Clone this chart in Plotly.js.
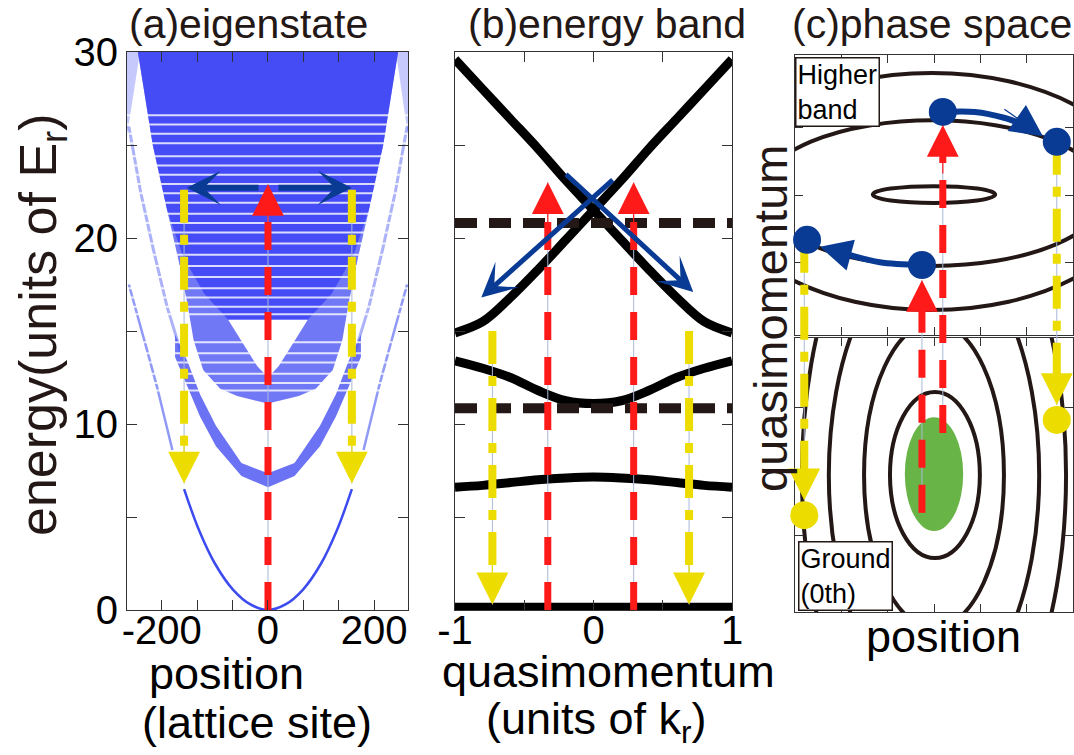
<!DOCTYPE html>
<html><head><meta charset="utf-8">
<script src="https://cdn.plot.ly/plotly-3.0.1.min.js"></script>
<style>html,body{margin:0;padding:0;background:#fff}#chart{width:1074px;height:755px}</style>
</head><body><div id="chart"></div>
<script>
// ================= DATA =================
// ---- panel (a): eigenstates, position (lattice site) vs energy (E_r)
const aGroundX = [-158,-130,-100,-66,-33,0,33,66,100,130,158];
const aGroundE = [6.5,4.3,2.5,1.1,0.3,0,0.3,1.1,2.5,4.3,6.5];
const aGroundTailLX = [-262,-247,-228,-209,-195,-180];
const aGroundTailRX = [262,247,228,209,195,180];
const aGroundTailE = [17.5,16.0,14.0,12.0,10.4,8.6];
const aFaintLX = [-262,-240,-216,-190,-163];
const aFaintRX = [262,240,216,190,163];
const aFaintE = [26.0,22.5,19.4,16.3,13.8];
const aBand1X = [-175,-152,-128,-98,-50,0,50,98,128,152,175];
const aBand1Lo = [13.6,12.0,10.4,8.8,7.2,6.6,7.2,8.8,10.4,12.0,13.6];
const aBand1Hi = [14.8,13.4,11.6,9.9,7.9,7.35,7.9,9.9,11.6,13.4,14.8];
const aUpperX = [-245,-217,-190,-170,-152,-140,-122,-90,-58,0,58,90,122,140,152,170,190,217,245];
const aUpperE = [30,25,21.5,19,16.5,14.5,12.9,11.9,11.5,11.1,11.5,11.9,12.9,14.5,16.5,19,21.5,25,30];
const aDenseX = [-245,-217,-190,-160,-120,-75,75,120,160,190,217,245];
const aDenseE = [30,25,21.5,19,17,15.6,15.6,17,19,21.5,25,30];
const aEyeX = [-75,-55,-40,-20,0,20,40,55,75];
const aEyeE = [15.6,14.7,14.0,13.1,12.5,13.1,14.0,14.7,15.6];
const aEdgeLX = [-265.5,-241,-265.5];
const aEdgeRX = [263.7,241,263.7];
const aEdgeE = [30,30,25.5];
const aStripeE = [26.6,26.1,25.6,25.1,24.4,23.9,23.4,22.9,22.4,21.9,21.3,20.8,20.3,19.7,19.1,18.5,17.9,17.3,16.8,16.3,15.9,14.4,13.8,13.3,12.7,12.2,11.8];
const aRedX = 0, aRedTipE = 22.9;
const aYellowX = [-158,158], aYellowTopE = 22.6, aYellowTipE = 6.8;
const aBlueTailX = [-15,17], aBlueTipX = [-153,158], aBlueE = 22.7;
const aTickVals = [-200,-133.3,-66.7,0,66.7,133.3,200];
const aTickText = ['-200','','','0','','','200'];
const eTickVals = [0,5,10,15,20,25,30];
const eTickText = ['0','','10','','20','','30'];

// ---- panel (b): band structure, quasimomentum (k_r) vs energy (E_r)
const bQ = [-1,-0.8,-0.6,-0.4,-0.2,0,0.2,0.4,0.6,0.8,1];
const bBand0 = [0.15,0.15,0.15,0.15,0.15,0.15,0.15,0.15,0.15,0.15,0.15];
const bBand1 = [6.6,6.7,6.85,7.0,7.1,7.15,7.1,7.0,6.85,6.7,6.6];
const bBand2 = [13.4,13.0,12.5,11.8,11.25,11.1,11.25,11.8,12.5,13.0,13.4];
const bBandDown = [29.6,28.0,26.4,24.8,23.1,21.5,19.9,18.3,16.8,15.5,14.9];
const bBandUp = [14.9,15.5,16.8,18.3,19.9,21.5,23.1,24.8,26.4,28.0,29.6];
const bDashedE = [20.8,10.85];
const bRedQ = [-0.33,0.29], bRedTipE = 23.0;
const bYellowQ = [-0.73,0.69], bYellowTopE = 15.0, bYellowTipE = 0.3;
const bBlueTailQ = [-0.21,0.15], bBlueTailE = [23.5,23.2];
const bBlueHeadQ = [0.72,-0.81], bBlueHeadE = [17.1,16.8];
const bTickVals = [-1,-0.5,0,0.5,1];
const bTickText = ['-1','','0','','1'];

// ---- panel (c): phase space (position vs quasimomentum), arbitrary units
const cUpCx = [-0.02,-0.05,0.0], cUpCy = [0.04,0.075,0.01];
const cUpRx = [3.73,4.51,1.32], cUpRy = [1.56,2.54,0.18];
const cLoCx = [0.02,0.0,0.0,0.0], cLoCy = [0.0,0.0,0.0,0.0];
const cLoRx = [0.97,1.51,2.27,2.85], cLoRy = [1.78,3.28,4.86,6.47];
const cGreen = {cx:0.0, cy:0.02, rx:0.63, ry:1.22};
const cBlueDotX = [0.19,2.65,-2.74,-0.26], cBlueDotY = [1.78,1.14,-0.96,-1.50];
const cYellowDotX = [-2.8,2.65], cYellowDotY = [-6.86,-4.82];
const cRedX = [0.19,-0.26], cRedFrom = [-5.10,-6.81], cRedTip = [1.50,-1.82];
const cYellowX = [-2.8,2.65], cYellowFrom = [-0.96,1.14], cYellowTip = [-6.54,-4.50];
const cCurve1X = [0.19,0.88,1.53,2.07], cCurve1Y = [1.78,1.78,1.65,1.46];
const cCurve2X = [-0.26,-1.17,-1.81], cCurve2Y = [-1.50,-1.44,-1.29];
const cHead1 = [2.35,1.26], cHead2 = [-2.46,-1.11];

// ================= STYLE =================
const FONT = 'Liberation Sans, Arial, Helvetica, sans-serif';
const TXT = '#231815';
const BLUE_D = 'rgba(58,68,242,0.72)', BLUE_DD = 'rgba(52,60,244,0.72)';
const NAVY = '#0a3b94', RED = '#ff1a1a', YEL = '#ecdc00', STEEL = '#a9b9d9';
const RED_DASH = '28px,17px', YEL_DASH = '33px,12px,10px,12px';

const traces = [];
function poly(x, y, fill, xa, ya){ traces.push({x, y, xaxis:xa, yaxis:ya, type:'scatter', mode:'lines', fill:'toself', fillcolor:fill, line:{width:0}, hoverinfo:'skip'}); }
function line(x, y, xa, ya, style, extra){ traces.push(Object.assign({x, y, xaxis:xa, yaxis:ya, type:'scatter', mode:'lines', line:style, hoverinfo:'skip'}, extra||{})); }

// ---- panel (a)
poly(aEdgeLX, aEdgeE, 'rgba(90,100,245,0.35)', 'x', 'y');
poly(aEdgeRX, aEdgeE, 'rgba(90,100,245,0.35)', 'x', 'y');
poly(aUpperX, aUpperE, BLUE_D, 'x', 'y');
poly(aDenseX, aDenseE, BLUE_DD, 'x', 'y');
poly(aBand1X.concat(aBand1X.slice().reverse()), aBand1Lo.concat(aBand1Hi.slice().reverse()), 'rgba(50,60,240,0.72)', 'x', 'y');
line(aGroundTailLX, aGroundTailE, 'x', 'y', {color:'rgba(70,85,240,0.6)', width:2.5});
line(aGroundTailRX, aGroundTailE, 'x', 'y', {color:'rgba(70,85,240,0.6)', width:2.5});
line(aFaintLX, aFaintE, 'x', 'y', {color:'rgba(70,85,240,0.45)', width:3});
line(aFaintRX, aFaintE, 'x', 'y', {color:'rgba(70,85,240,0.45)', width:3});
(function(){ const sx=[], sy=[]; aStripeE.forEach(e=>{ sx.push(-265.5,263.7,null); sy.push(e,e,null); }); line(sx, sy, 'x', 'y', {color:'rgba(255,255,255,0.8)', width:2}); })();
poly(aEyeX, aEyeE, '#ffffff', 'x', 'y');
line(aGroundX, aGroundE, 'x', 'y', {color:'#3c4bf0', width:2.5, shape:'spline'});
line([aRedX,aRedX], [0,aRedTipE], 'x', 'y', {color:STEEL, width:1});
aYellowX.forEach(x=>line([x,x],[aYellowTipE,aYellowTopE],'x','y',{color:STEEL,width:1}));
line([aRedX,aRedX], [0,aRedTipE-1.2], 'x', 'y', {color:RED, width:7, dash:RED_DASH});
aYellowX.forEach(x=>line([x,x],[aYellowTopE,aYellowTipE+1.0],'x','y',{color:YEL,width:8,dash:YEL_DASH}));

// ---- panel (b)
[bBand0,bBand1,bBand2,bBandDown,bBandUp].forEach(b=>line(bQ, b, 'x2', 'y2', {color:'#000', width:9, shape:'spline'}, {cliponaxis:false}));
bRedQ.forEach(q=>line([q,q],[0,bRedTipE],'x2','y2',{color:STEEL,width:1}));
bYellowQ.forEach(q=>line([q,q],[bYellowTipE,bYellowTopE],'x2','y2',{color:STEEL,width:1}));
bDashedE.forEach(e=>line([-1,1.03],[e,e],'x2','y2',{color:TXT,width:10,dash:'22px,12px'},{cliponaxis:false}));
bRedQ.forEach(q=>line([q,q],[0,bRedTipE-1.2],'x2','y2',{color:RED,width:7,dash:RED_DASH}));
bYellowQ.forEach(q=>line([q,q],[bYellowTopE,bYellowTipE+1.0],'x2','y2',{color:YEL,width:8,dash:YEL_DASH}));

// ---- panel (c) overlay traces (x5/y5)
cRedX.forEach((x,i)=>line([x,x],[cRedFrom[i],cRedTip[i]],'x5','y5',{color:STEEL,width:1}));
cYellowX.forEach((x,i)=>line([x,x],[cYellowFrom[i],cYellowTip[i]],'x5','y5',{color:STEEL,width:1}));
cRedX.forEach((x,i)=>line([x,x],[cRedFrom[i],cRedTip[i]-0.3],'x5','y5',{color:RED,width:7,dash:RED_DASH}));
cYellowX.forEach((x,i)=>line([x,x],[cYellowFrom[i],cYellowTip[i]+0.3],'x5','y5',{color:YEL,width:8,dash:YEL_DASH}));
line(cCurve1X, cCurve1Y, 'x5', 'y5', {color:NAVY, width:6, shape:'spline'});
line(cCurve2X, cCurve2Y, 'x5', 'y5', {color:NAVY, width:6, shape:'spline'});
traces.push({x:cBlueDotX, y:cBlueDotY, xaxis:'x5', yaxis:'y5', type:'scatter', mode:'markers', marker:{color:NAVY, size:28, line:{width:0}}, hoverinfo:'skip', cliponaxis:false});
traces.push({x:cYellowDotX, y:cYellowDotY, xaxis:'x5', yaxis:'y5', type:'scatter', mode:'markers', marker:{color:YEL, size:28, line:{width:0}}, hoverinfo:'skip', cliponaxis:false});

// ---- shapes (phase-space contours)
const shapes = [];
function ell(xr, yr, cx, cy, rx, ry, style){ shapes.push(Object.assign({type:'circle', xref:xr, yref:yr, x0:cx-rx, x1:cx+rx, y0:cy-ry, y1:cy+ry, layer:'below'}, style)); }
cUpRx.forEach((rx,i)=>ell('x3','y3',cUpCx[i],cUpCy[i],rx,cUpRy[i],{line:{color:TXT,width:4}}));
ell('x4','y4',cGreen.cx,cGreen.cy,cGreen.rx,cGreen.ry,{line:{width:0},fillcolor:'#68b447'});
cLoRx.forEach((rx,i)=>ell('x4','y4',cLoCx[i],cLoCy[i],rx,cLoRy[i],{line:{color:TXT,width:4}}));

// ---- annotations
const ann = [];
function head(xr, yr, x, y, ax, ay, color){ ann.push({xref:xr, yref:yr, x, y, ax, ay, text:'', showarrow:true, arrowhead:2, arrowsize:5.3, arrowwidth:1.2, arrowcolor:color, standoff:0}); }
function arrow(xr, yr, x, y, ax, ay, color, w, size){ ann.push({xref:xr, yref:yr, axref:xr, ayref:yr, x, y, ax, ay, text:'', showarrow:true, arrowhead:3, arrowsize:size, arrowwidth:w, arrowcolor:color, standoff:0}); }
// (a)
head('x','y',aRedX,aRedTipE,0,50,RED);
aYellowX.forEach(x=>head('x','y',x,aYellowTipE,0,-50,YEL));
aBlueTipX.forEach((x,i)=>arrow('x','y',x,aBlueE,aBlueTailX[i],aBlueE,NAVY,6,0.95));
// (b)
bRedQ.forEach(q=>head('x2','y2',q,bRedTipE,0,50,RED));
bYellowQ.forEach(q=>head('x2','y2',q,bYellowTipE,0,-50,YEL));
bBlueHeadQ.forEach((q,i)=>arrow('x2','y2',q,bBlueHeadE[i],bBlueTailQ[i],bBlueTailE[i],NAVY,5,1.15));
// (c)
cRedX.forEach((x,i)=>head('x5','y5',x,cRedTip[i],0,50,RED));
cYellowX.forEach((x,i)=>head('x5','y5',x,cYellowTip[i],0,-50,YEL));
head('x5','y5',cHead1[0],cHead1[1],-40,-28,NAVY);
head('x5','y5',cHead2[0],cHead2[1],48,13,NAVY);

// text labels
function txt(text, px, py, size, extra){ ann.push(Object.assign({xref:'paper', yref:'paper', x:px/1074, y:1-py/755, text, showarrow:false, font:{family:FONT, size, color:TXT}, xanchor:'center', yanchor:'middle'}, extra||{})); }
txt('(a)eigenstate', 248, 24, 41);
txt('(b)energy band', 607, 24, 41);
txt('(c)phase space', 932, 24, 41);
txt('energy(units of E<sub>r</sub>)', 42, 325, 52, {textangle:-90});
txt('quasimomentum', 770, 319, 47, {textangle:-90});
const K = {family:FONT,size:45,color:'#000'};
txt('position', 226, 673, 45, {font:K});
txt('(lattice site)', 257, 722, 45, {font:K});
txt('quasimomentum', 608, 671, 45, {font:K});
txt('(units of k<sub>r</sub>)', 596, 721, 45, {font:K});
txt('position', 943, 636, 45, {font:K});
ann.push({xref:'paper', yref:'paper', x:795/1074, y:1-57/755, xanchor:'left', yanchor:'top', align:'left', text:'Higher<br>band', showarrow:false, font:{family:FONT,size:27,color:'#000'}, bgcolor:'#fff', bordercolor:TXT, borderwidth:1.5, borderpad:1});
ann.push({xref:'paper', yref:'paper', x:798/1074, y:1-611/755, xanchor:'left', yanchor:'bottom', align:'left', text:'Ground<br>(0th)', showarrow:false, font:{family:FONT,size:27,color:'#000'}, bgcolor:'#fff', bordercolor:TXT, borderwidth:1.5, borderpad:1});

// ================= LAYOUT =================
const frame = {showline:true, mirror:'ticks', linecolor:'#333', linewidth:1, ticks:'inside', ticklen:10, tickcolor:'#333', tickwidth:1, showgrid:false, zeroline:false, tickfont:{family:FONT, size:40, color:'#000'}, fixedrange:true};
const yA = [1-610/755, 1-52/755];
const layout = {
  width:1074, height:755, margin:{l:0,r:0,t:0,b:0}, showlegend:false,
  paper_bgcolor:'#fff', plot_bgcolor:'rgba(0,0,0,0)',
  xaxis: Object.assign({}, frame, {domain:[127/1074,408/1074], range:[-265.5,263.7], anchor:'y', tickmode:'array', tickvals:aTickVals, ticktext:aTickText, ticklabelstandoff:-15}),
  yaxis: Object.assign({}, frame, {domain:yA, range:[0,30], anchor:'x', tickmode:'array', tickvals:eTickVals, ticktext:eTickText}),
  xaxis2: Object.assign({}, frame, {domain:[455/1074,732/1074], range:[-1,1], anchor:'y2', tickmode:'array', tickvals:bTickVals, ticktext:bTickText, ticklabelstandoff:-15}),
  yaxis2: Object.assign({}, frame, {domain:yA, range:[0,30], anchor:'x2', tickmode:'array', tickvals:eTickVals, showticklabels:false}),
  xaxis3: Object.assign({}, frame, {domain:[795/1074,1073/1074], range:[-3,3], anchor:'y3', ticklen:8, tickmode:'array', tickvals:[-2,-1,0,1,2], showticklabels:false}),
  yaxis3: Object.assign({}, frame, {domain:[1-335/755,1-55/755], range:[-3,3], anchor:'x3', ticklen:8, tickmode:'array', tickvals:[-1.45,0,1.45], showticklabels:false}),
  xaxis4: Object.assign({}, frame, {domain:[795/1074,1073/1074], range:[-3,3], anchor:'y4', ticklen:8, tickmode:'array', tickvals:[-2,-1,0,1,2], showticklabels:false}),
  yaxis4: Object.assign({}, frame, {domain:[1-612/755,1-338/755], range:[-2.936,2.936], anchor:'x4', ticklen:8, tickmode:'array', tickvals:[-1.3,1.45], showticklabels:false}),
  xaxis5: {domain:[795/1074,1073/1074], range:[-3,3], anchor:'y5', visible:false, fixedrange:true},
  yaxis5: {domain:[1-612/755,1-55/755], range:[-8.935,3], anchor:'x5', visible:false, fixedrange:true},
  shapes, annotations: ann
};
Plotly.newPlot('chart', traces, layout, {displayModeBar:false, staticPlot:true});
</script>
</body></html>
